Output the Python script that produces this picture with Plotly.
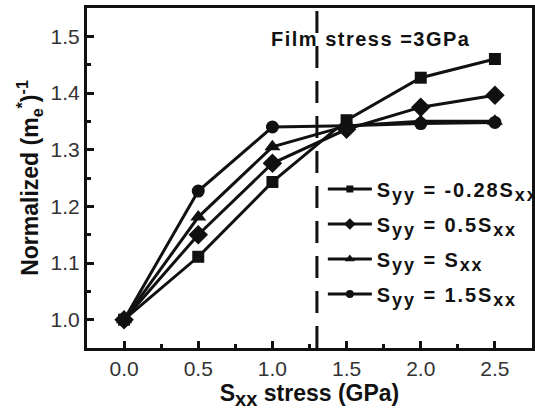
import plotly.graph_objects as go

x_stress = [0.0, 0.5, 1.0, 1.5, 2.0, 2.5]
s_neg028 = [1.0, 1.111, 1.243, 1.352, 1.427, 1.46]
s_05 = [1.0, 1.15, 1.276, 1.336, 1.375, 1.396]
s_1 = [1.0, 1.181, 1.305, 1.342, 1.35, 1.35]
s_15 = [1.0, 1.227, 1.34, 1.342, 1.346, 1.348]
SUB = "<sub><span style='font-size:18px'>{}</span></sub>"
names = ["S" + SUB.format("yy") + " = -0.28S" + SUB.format("xx"),
         "S" + SUB.format("yy") + " = 0.5S" + SUB.format("xx"),
         "S" + SUB.format("yy") + " = S" + SUB.format("xx"),
         "S" + SUB.format("yy") + " = 1.5S" + SUB.format("xx")]
symbols = ["square", "diamond", "triangle-up", "circle"]
sizes = [12, 15, 14, 13]
legend_sizes = [7, 9, 9, 8]
film_stress_x = 1.3
x_ticks = [0.0, 0.5, 1.0, 1.5, 2.0, 2.5]
y_ticks = [1.0, 1.1, 1.2, 1.3, 1.4, 1.5]

FONT = "Liberation Sans, Arial, sans-serif"
fig = go.Figure()
for i, (ys, nm, sym, sz, lsz) in enumerate(zip([s_neg028, s_05, s_1, s_15], names, symbols, sizes, legend_sizes)):
    fig.add_trace(go.Scatter(
        x=x_stress, y=ys, mode="lines+markers", name=nm, showlegend=False,
        line=dict(color="#111", width=3),
        marker=dict(symbol=sym, size=sz, color="#111", line=dict(width=0)),
    ))
    fig.add_trace(go.Scatter(
        x=[None], y=[None], mode="lines+markers",
        name="<b><span style='letter-spacing:1.9px'>" + nm + "</span></b>", legendgroup=str(i),
        line=dict(color="#111", width=3),
        marker=dict(symbol=sym, size=lsz, color="#111", line=dict(width=0)),
    ))

fig.add_shape(type="line", x0=film_stress_x, x1=film_stress_x, y0=0, y1=1, yref="paper",
              line=dict(color="#111", width=3, dash="22px,13px"), layer="below")

fig.add_annotation(x=film_stress_x, y=1.496, xref="x", yref="y",
                   text="<b><span style='letter-spacing:1.5px'>Film stress =3GPa</span></b>",
                   showarrow=False, xanchor="center", xshift=54, yshift=0,
                   font=dict(family=FONT, size=20, color="#111"))

axis_common = dict(showline=True, linecolor="#111", linewidth=3, mirror=True, ticks="inside",
                   ticklen=7, tickwidth=3, tickcolor="#111", showgrid=False, zeroline=False,
                   automargin=False,
                   tickfont=dict(family=FONT, size=21, color="#333"))

fig.update_xaxes(range=[-0.25, 2.75], tickvals=x_ticks, ticktext=[f"{v:.1f}" for v in x_ticks],
                 minor=dict(ticks="inside", ticklen=4, tickwidth=3, tickcolor="#111", dtick=0.25, tick0=0),
                 title=dict(text="<b>S<sub><span style='font-size:20px'>xx</span></sub> stress (GPa)</b>",
                            font=dict(family=FONT, size=23, color="#111"), standoff=4),
                 **axis_common)
fig.update_yaxes(range=[0.95, 1.55], tickvals=y_ticks, ticktext=[f"{v:.1f}" for v in y_ticks],
                 minor=dict(ticks="inside", ticklen=4, tickwidth=3, tickcolor="#111", dtick=0.05, tick0=1.0),
                 title=dict(text="<b>Normalized (m<sub>e</sub><sup>*</sup>)<sup>-1</sup></b>",
                            font=dict(family=FONT, size=23, color="#111"), standoff=6),
                 **axis_common)

fig.update_layout(
    width=535, height=410,
    margin=dict(l=87, r=3, t=8, b=62, autoexpand=False),
    paper_bgcolor="white", plot_bgcolor="white",
    showlegend=True,
    legend=dict(x=0.53, y=0.525, xanchor="left", yanchor="top", bgcolor="rgba(0,0,0,0)",
                font=dict(family=FONT, size=20, color="#111"), tracegroupgap=6,
                itemwidth=44),
)

fig.write_html("out.html", config={"displayModeBar": False},
               post_script="document.body.style.margin='0';")
